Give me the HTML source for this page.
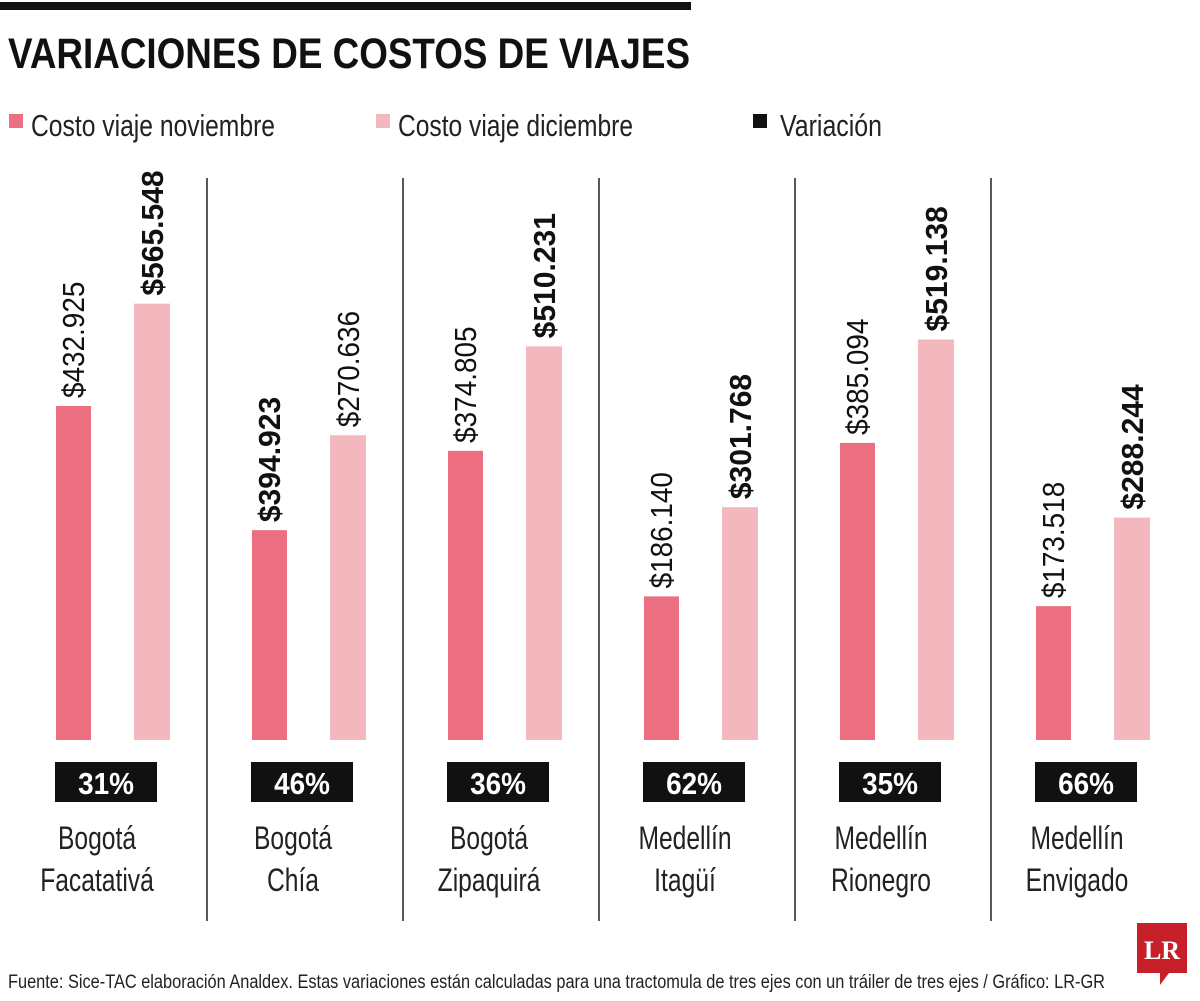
<!DOCTYPE html>
<html><head><meta charset="utf-8">
<style>
body{margin:0;background:#fff;}
svg{display:block;font-family:"Liberation Sans",sans-serif;}
</style></head>
<body>
<svg id="chart" width="1200" height="1001" viewBox="0 0 1200 1001">
<rect x="0" y="2" width="691" height="8" fill="#111"/>
<text x="8" y="68" font-size="43" font-weight="bold" fill="#111" textLength="682" lengthAdjust="spacingAndGlyphs">VARIACIONES DE COSTOS DE VIAJES</text>
<g>
<g><rect x="9" y="114" width="14" height="14" fill="#ec6f81"/><text x="31" y="136" font-size="31" fill="#222" textLength="244" lengthAdjust="spacingAndGlyphs">Costo viaje noviembre</text></g>
<g><rect x="376" y="114" width="14" height="14" fill="#f3b8bd"/><text x="398" y="136" font-size="31" fill="#222" textLength="235" lengthAdjust="spacingAndGlyphs">Costo viaje diciembre</text></g>
<g><rect x="753" y="114" width="14" height="14" fill="#111"/><text x="780" y="136" font-size="31" fill="#222" textLength="102" lengthAdjust="spacingAndGlyphs">Variación</text></g>
</g>
<g id="plot"></g>
<text x="8" y="988" font-size="19" fill="#222" textLength="1097" lengthAdjust="spacingAndGlyphs">Fuente: Sice-TAC elaboración Analdex. Estas variaciones están calculadas para una tractomula de tres ejes con un tráiler de tres ejes / Gráfico: LR-GR</text>
<g>
<path d="M1137 923 h50 v50 h-18 l-9 12 v-12 h-23 z" fill="#c8202a"/>
<text x="1162" y="959" font-size="26" font-weight="bold" fill="#fff" text-anchor="middle" font-family="Liberation Serif, serif">LR</text>
</g>
</svg>
<script>
const categories1 = ["Bogotá","Bogotá","Bogotá","Medellín","Medellín","Medellín"];
const categories2 = ["Facatativá","Chía","Zipaquirá","Itagüí","Rionegro","Envigado"];
const novValues = [432925, 272000, 374805, 186140, 385094, 173518];
const decValues = [565548, 395000, 510231, 301768, 519138, 288244];
const novLabels = ["$432.925","$394.923","$374.805","$186.140","$385.094","$173.518"];
const decLabels = ["$565.548","$270.636","$510.231","$301.768","$519.138","$288.244"];
const novBold = [false,true,false,false,false,false];
const decBold = [true,false,true,true,true,true];
const variation = ["31%","46%","36%","62%","35%","66%"];

const NS="http://www.w3.org/2000/svg";
const plot=document.getElementById('plot');
const baseY=740, k=334/432925, groupW=196, x0=56, barW=36;
function y(v){return baseY - v*k;}
function gx(i){return x0 + i*groupW;}
function mk(tag,attrs){const e=document.createElementNS(NS,tag);for(const a in attrs)e.setAttribute(a,attrs[a]);plot.appendChild(e);return e;}

categories1.forEach((c,i)=>{
  const g=gx(i);
  const b1=mk('rect',{x:g,y:y(novValues[i]),width:barW-1,height:baseY-y(novValues[i]),fill:'#ec6f81'});
  
  
  const b2=mk('rect',{x:g+78,y:y(decValues[i]),width:barW,height:baseY-y(decValues[i]),fill:'#f3b8bd'});
  
  
  [[g+17,novValues[i],novLabels[i],novBold[i],'nov'],[g+96,decValues[i],decLabels[i],decBold[i],'dec']].forEach(([cx,v,l,bd,s])=>{
    const yy=y(v)-8;
    const t=mk('text',{x:0,y:0,transform:`translate(${cx+11},${yy}) rotate(-90) scale(${bd?0.97:0.9},1)`,'font-size':31,fill:'#111','font-weight':bd?'bold':'normal'});
    t.textContent=l;
    
    
  });
  const box=mk('rect',{x:g-1,y:762,width:102,height:40,fill:'#111'});
  
  
  const vt=mk('text',{x:0,y:0,transform:`translate(${g+50},794) scale(0.9,1)`,'text-anchor':'middle','font-size':31,'font-weight':'bold',fill:'#fff'});
  vt.textContent=variation[i];
  
  
  const l1=mk('text',{x:0,y:0,transform:`translate(${g+41},849) scale(0.77,1)`,'text-anchor':'middle','font-size':32,fill:'#222'});
  l1.textContent=c;
  
  
  const l2=mk('text',{x:0,y:0,transform:`translate(${g+41},891) scale(0.77,1)`,'text-anchor':'middle','font-size':32,fill:'#222'});
  l2.textContent=categories2[i];
  
  
  if(i>0){
    const d=mk('line',{x1:g-45,x2:g-45,y1:178,y2:921,stroke:'#222','stroke-width':1.5});
    
    
  }
});
</script>
</body></html>
